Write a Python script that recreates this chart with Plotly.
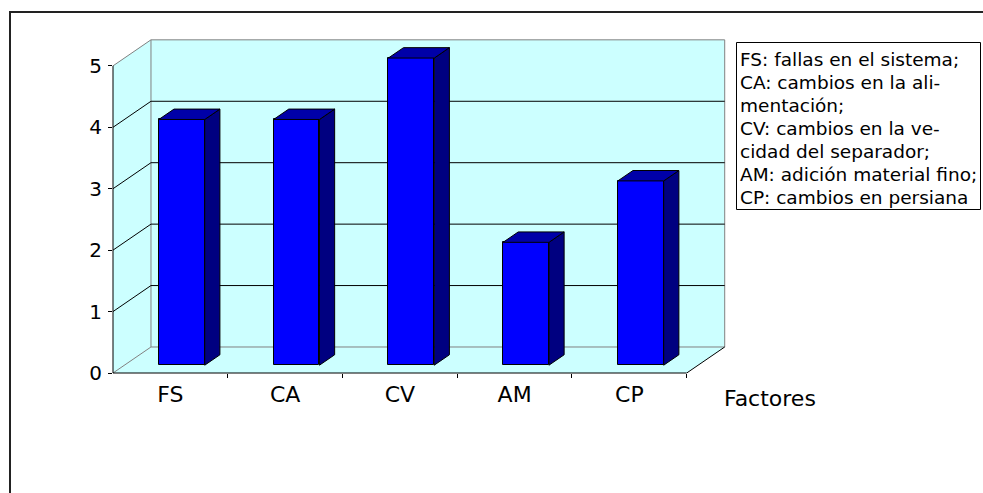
import plotly.graph_objects as go

# ---- data ----
categories = ["FS", "CA", "CV", "AM", "CP"]
values = [4, 4, 5, 2, 3]
y_ticks = [0, 1, 2, 3, 4, 5]
axis_title = "Factores"
legend_lines = [
    "FS: fallas en el sistema;",
    "CA: cambios en la ali-",
    "mentación;",
    "CV: cambios en la ve-",
    "cidad del separador;",
    "AM: adición material fino;",
    "CP: cambios en persiana",
]

# ---- 3D look parameters (style) ----
DX, DY = 0.331, 0.4235      # depth of the chart box in axis units
F0, F1 = 0.3, 0.7           # bar depth placement (front / back fraction)
BW = 0.40                   # bar width
WALL = "#CCFFFF"
FRONT = "#0000FF"
TOP = "#0000A8"
SIDE = "#000080"
GREY = "#808080"
FONT = "DejaVu Sans"

n = len(categories)
ymax = max(y_ticks)
x_lo, x_hi = -0.5, n - 0.5
XR = [x_lo, x_hi + DX + 0.02]
YR = [0, ymax + DY + 0.03]

W, H = 983, 493
ML, MB, MT = 113, 120, 38
PW = 614
MR = W - ML - PW
PH = H - MT - MB


def px_x(p):
    return (p - ML) / PW


def px_y(p):
    return (H - MB - p) / PH


fig = go.Figure()

# front faces of the bars
bar_x = [i + F0 * DX for i in range(n)]
fig.add_trace(go.Bar(
    x=bar_x, y=values, base=F0 * DY, width=BW,
    marker=dict(color=FRONT, line=dict(color="black", width=1)),
    hoverinfo="skip", showlegend=False,
))

# side and top faces
d = (F1 - F0)
for xc, v in zip(bar_x, values):
    x0, x1 = xc - BW / 2, xc + BW / 2
    b = F0 * DY
    t = b + v
    fig.add_trace(go.Scatter(
        x=[x1, x1, x1 + d * DX, x1 + d * DX, x1],
        y=[b, t, t + d * DY, b + d * DY, b],
        fill="toself", fillcolor=SIDE, mode="lines",
        line=dict(color="black", width=1), hoverinfo="skip", showlegend=False,
    ))
    fig.add_trace(go.Scatter(
        x=[x0, x0 + d * DX, x1 + d * DX, x1, x0],
        y=[t, t + d * DY, t + d * DY, t, t],
        fill="toself", fillcolor=TOP, mode="lines",
        line=dict(color="black", width=1), hoverinfo="skip", showlegend=False,
    ))

# dummy trace for boundary tick axis
fig.add_trace(go.Scatter(x=[XR[0]], y=[0], xaxis="x2", mode="markers",
                         marker=dict(opacity=0), hoverinfo="skip", showlegend=False))

shapes = []
# floor
shapes.append(dict(type="path", xref="x", yref="y", layer="below",
                   path=f"M {x_lo},0 L {x_hi},0 L {x_hi+DX},{DY} L {x_lo+DX},{DY} Z",
                   fillcolor=WALL, line=dict(width=0)))
# left wall
shapes.append(dict(type="path", xref="x", yref="y", layer="below",
                   path=f"M {x_lo},0 L {x_lo+DX},{DY} L {x_lo+DX},{ymax+DY} L {x_lo},{ymax} Z",
                   fillcolor=WALL, line=dict(width=0)))
# back wall
shapes.append(dict(type="rect", xref="x", yref="y", layer="below",
                   x0=x_lo + DX, x1=x_hi + DX, y0=DY, y1=ymax + DY,
                   fillcolor=WALL, line=dict(color=GREY, width=1)))
# gridlines
for tv in y_ticks:
    col = GREY if tv in (0, ymax) else "black"
    if tv not in (0, ymax):
        shapes.append(dict(type="line", xref="x", yref="y", layer="below",
                           x0=x_lo + DX, x1=x_hi + DX, y0=tv + DY, y1=tv + DY,
                           line=dict(color="black", width=1)))
    shapes.append(dict(type="line", xref="x", yref="y", layer="below",
                       x0=x_lo, x1=x_lo + DX, y0=tv, y1=tv + DY,
                       line=dict(color=col, width=1)))
# right floor edge
shapes.append(dict(type="line", xref="x", yref="y", layer="below",
                   x0=x_hi, x1=x_hi + DX, y0=0, y1=DY,
                   line=dict(color="black", width=1)))
# front axes lines
shapes.append(dict(type="line", xref="x domain", yref="y", layer="above",
                   x0=0, x1=0, y0=0, y1=ymax, line=dict(color="black", width=1)))
shapes.append(dict(type="line", xref="x", yref="y domain", layer="above",
                   x0=x_lo, x1=x_hi, y0=0, y1=0, line=dict(color="black", width=1)))
# outer chart frame (left and top edges visible)
shapes.append(dict(type="line", xref="paper", yref="paper",
                   x0=px_x(10), x1=px_x(10), y0=px_y(11), y1=px_y(520),
                   line=dict(color="#222222", width=2)))
shapes.append(dict(type="line", xref="paper", yref="paper",
                   x0=px_x(9), x1=px_x(1000), y0=px_y(12), y1=px_y(12),
                   line=dict(color="#222222", width=2)))
# legend text box
shapes.append(dict(type="rect", xref="paper", yref="paper",
                   x0=px_x(736.5), x1=px_x(980.5), y0=px_y(42.5), y1=px_y(209.5),
                   line=dict(color="black", width=1), fillcolor="white"))

annotations = []
for k, line in enumerate(legend_lines):
    annotations.append(dict(
        text=line, xref="paper", yref="paper",
        x=px_x(739), y=px_y(59.5 + 23.05 * k), xanchor="left", yanchor="middle",
        showarrow=False, borderpad=0,
        font=dict(family=FONT, size=18.5, color="black")))
annotations.append(dict(text=axis_title, xref="paper", yref="paper",
                        x=px_x(722), y=px_y(398), xanchor="left", yanchor="middle",
                        showarrow=False, font=dict(family=FONT, size=22, color="black")))

fig.update_layout(
    width=W, height=H,
    margin=dict(l=ML, r=MR, t=MT, b=MB, pad=0),
    paper_bgcolor="white", plot_bgcolor="white",
    showlegend=False, bargap=0,
    shapes=shapes, annotations=annotations,
    xaxis=dict(range=XR, tickmode="array", tickvals=list(range(n)), ticktext=categories,
               ticks="", showgrid=False, zeroline=False, showline=False,
               ticklabelstandoff=6,
               tickfont=dict(family=FONT, size=22, color="black"), fixedrange=True),
    xaxis2=dict(range=XR, overlaying="x", anchor="y", side="bottom",
                tickmode="array", tickvals=[i + 0.5 for i in range(n)],
                ticks="outside", ticklen=4, tickcolor="black", tickwidth=1,
                showticklabels=False, showgrid=False, zeroline=False, showline=False),
    yaxis=dict(range=YR, tickmode="array", tickvals=y_ticks,
               ticks="outside", ticklen=4, tickcolor="black", tickwidth=1,
               showgrid=False, zeroline=False, showline=False,
               ticklabelstandoff=2,
               tickfont=dict(family=FONT, size=20, color="black"), fixedrange=True),
)

fig.write_html(
    "out.html",
    config={"displayModeBar": False},
    post_script="document.body.style.margin='0';document.body.style.overflow='hidden';",
)
